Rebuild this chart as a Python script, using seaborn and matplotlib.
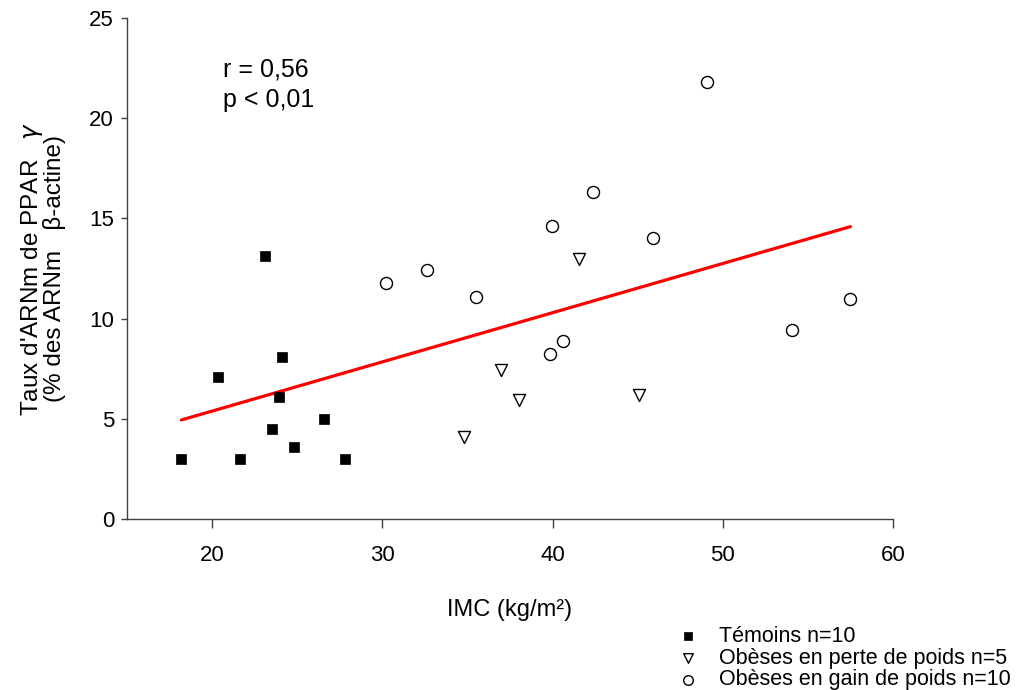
import matplotlib
matplotlib.use("Agg")
import matplotlib.pyplot as plt
import seaborn as sns
import numpy as np
import pandas as pd

# Data
temoins_x = [18.2, 20.35, 21.65, 23.1, 23.5, 24.1, 23.95, 24.8, 26.6, 27.8]
temoins_y = [3.0, 7.1, 3.0, 13.1, 4.5, 8.1, 6.1, 3.6, 5.0, 3.0]

perte_x = [34.8, 36.95, 38.05, 41.55, 45.05]
perte_y = [4.1, 7.45, 5.95, 12.95, 6.2]

gain_x = [30.2, 32.6, 35.5, 39.95, 39.85, 40.6, 42.35, 45.9, 49.05, 54.05, 57.5]
gain_y = [11.8, 12.45, 11.1, 14.6, 8.25, 8.9, 16.3, 14.0, 21.8, 9.45, 11.0]

labels = ["Témoins n=10", "Obèses en perte de poids n=5", "Obèses en gain de poids n=10"]
annot = ["r = 0,56", "p < 0,01"]

sns.set_style("ticks")
plt.rcParams['font.family'] = ['Liberation Sans', 'DejaVu Sans']
plt.rcParams['text.color'] = 'black'
plt.rcParams['axes.labelcolor'] = 'black'
plt.rcParams['xtick.labelcolor'] = 'black'
plt.rcParams['ytick.labelcolor'] = 'black'

fig = plt.figure(figsize=(10.27, 6.9), dpi=100)
ax = fig.add_axes([127/1027, 1-519/690, (893-127)/1027, (519-18)/690])

all_x = temoins_x + perte_x + gain_x
all_y = temoins_y + perte_y + gain_y
df = pd.DataFrame({"x": all_x, "y": all_y})
sns.regplot(data=df, x="x", y="y", scatter=False, ci=None, ax=ax,
            line_kws=dict(color="#ff0000", lw=2.3, zorder=1))

sns.scatterplot(x=temoins_x, y=temoins_y, marker="s", s=55, color="black",
                edgecolor="black", linewidth=0.5, ax=ax, label=labels[0], zorder=3)
sns.scatterplot(x=perte_x, y=perte_y, marker="v", s=75, facecolor="white",
                edgecolor="black", linewidth=1.0, ax=ax, label=labels[1], zorder=3)
sns.scatterplot(x=gain_x, y=gain_y, marker="o", s=75, facecolor="white",
                edgecolor="black", linewidth=1.0, ax=ax, label=labels[2], zorder=3)

ax.set_xlim(15, 60)
ax.set_ylim(0, 25)
ax.set_xticks([20, 30, 40, 50, 60])
ax.set_yticks([0, 5, 10, 15, 20, 25])
for s in ["top", "right"]:
    ax.spines[s].set_visible(False)
for s in ["left", "bottom"]:
    ax.spines[s].set_color("#404040")
    ax.spines[s].set_linewidth(1.0)
ax.tick_params(axis="x", length=6.5, width=1, color="#404040", pad=12,
               labelsize=16, labelcolor="black")
ax.tick_params(axis="y", length=4.3, width=1, color="#404040", pad=5,
               labelsize=16, labelcolor="black")

ax.set_xlabel("IMC (kg/m²)", fontsize=17, labelpad=24)
ax.set_ylabel("Taux d'ARNm de PPAR   $\\gamma$\n(% des ARNm   β-actine)", fontsize=17.5,
              labelpad=17, linespacing=0.88)

ax.text(223/1027, 1-70/690, annot[0], transform=fig.transFigure, fontsize=18,
        va="center", ha="left")
ax.text(223/1027, 1-100/690, annot[1], transform=fig.transFigure, fontsize=18,
        va="center", ha="left")

ax.legend(loc="upper left", bbox_to_anchor=(677/1027, 1-626/690),
          bbox_transform=fig.transFigure, frameon=False, fontsize=15.5,
          handlelength=1.0, handletextpad=0.97, labelspacing=0.03,
          borderaxespad=0, borderpad=0, markerscale=0.8)

fig.savefig("out.png", dpi=100)
